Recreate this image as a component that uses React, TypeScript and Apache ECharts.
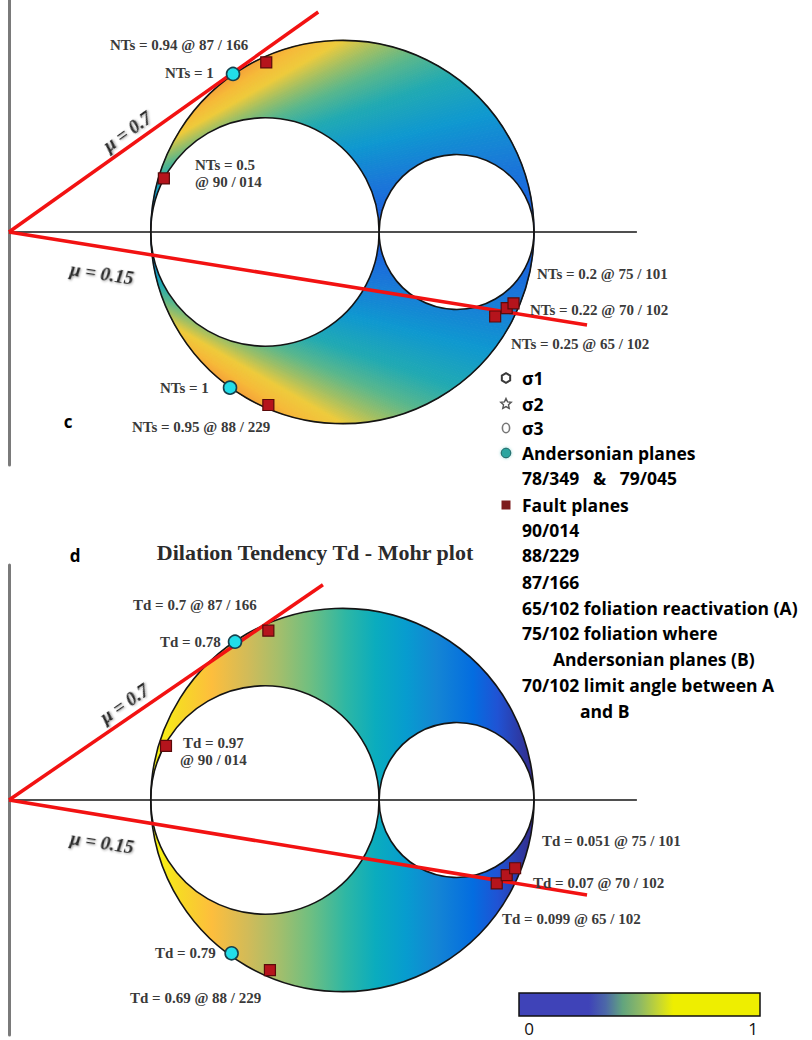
import React, { useEffect, useRef } from "react";
import * as echarts from "echarts";

// ---------- data ----------
// principal stresses (arbitrary units): sigma3, sigma2, sigma1
const principalStresses = [27, 70.5, 100];

// normalized slip tendency plot (c)
const slipAndersonian = [[42.67, 30.1], [42.1, -29.65]];
const slipFaults = [[49.0, 32.3], [29.5, 10.2], [92.6, -16.1], [94.8, -14.5], [96.1, -13.6], [49.4, -32.95]];
const slipFrictionEnds = [[58.9, 41.9], [110.1, -17.7]];
const slipNotes = [
  "NTs = 0.94 @ 87 / 166", "NTs = 1", "NTs = 0.5", "@ 90 / 014",
  "NTs = 0.2 @ 75 / 101", "NTs = 0.22 @ 70 / 102", "NTs = 0.25 @ 65 / 102",
  "NTs = 1", "NTs = 0.95 @ 88 / 229",
];

// dilation tendency plot (d)
const dilAndersonian = [[43.05, 30.15], [42.4, -29.2]];
const dilFaults = [[49.4, 32.25], [29.9, 10.3], [92.9, -15.9], [94.8, -14.3], [96.4, -13.0], [49.7, -32.4]];
const dilFrictionEnds = [[59.8, 41.0], [110.1, -18.1]];
const dilNotes = [
  "Td = 0.7 @ 87 / 166", "Td = 0.78", "Td = 0.97", "@ 90 / 014",
  "Td = 0.051 @ 75 / 101", "Td = 0.07 @ 70 / 102", "Td = 0.099 @ 65 / 102",
  "Td = 0.79", "Td = 0.69 @ 88 / 229",
];

const frictionLabels = ["μ = 0.7", "μ = 0.15"];
const legendLines = [
  "σ1", "σ2", "σ3", "Andersonian planes", "78/349   &   79/045", "Fault planes",
  "90/014", "88/229", "87/166", "65/102 foliation reactivation (A)",
  "75/102 foliation where", "Andersonian planes (B)", "70/102 limit angle between A", "and B",
];
const colorbarTicks = ["0", "1"];

// ---------- styling helpers ----------
const PARULA: number[][] = [
  [0.0, 0.2081, 0.1663, 0.5292],
  [0.095, 0.1253, 0.3242, 0.8303],
  [0.159, 0.0165, 0.4266, 0.8786],
  [0.254, 0.0793, 0.52, 0.8312],
  [0.333, 0.0265, 0.6137, 0.8135],
  [0.413, 0.0384, 0.6743, 0.7436],
  [0.492, 0.1801, 0.7177, 0.6424],
  [0.587, 0.442, 0.7481, 0.5033],
  [0.667, 0.6473, 0.7456, 0.4188],
  [0.746, 0.8185, 0.7327, 0.3498],
  [0.841, 0.9938, 0.7455, 0.2403],
  [0.921, 0.9697, 0.8481, 0.1475],
  [1.0, 0.9763, 0.9831, 0.0538],
];
function interp(stops: number[][], f: number): string {
  const v = Math.max(0, Math.min(1, f));
  let i = 0;
  while (i < stops.length - 2 && stops[i + 1][0] < v) i++;
  const a = stops[i], b = stops[i + 1];
  const t = (v - a[0]) / (b[0] - a[0]);
  const ch = (k: number) => Math.round(255 * (a[k] + (b[k] - a[k]) * t));
  return `rgb(${ch(1)},${ch(2)},${ch(3)})`;
}
const parula = (f: number) => interp(PARULA, f);
const hexStop = (o: number, h: string) => [o, parseInt(h.slice(1, 3), 16) / 255, parseInt(h.slice(3, 5), 16) / 255, parseInt(h.slice(5, 7), 16) / 255];
const NTS_MAP = [
  hexStop(0.0, "#1a55e0"), hexStop(0.2, "#1a7ad8"), hexStop(0.35, "#0f98d0"), hexStop(0.5, "#22aab2"),
  hexStop(0.62, "#5ab78c"), hexStop(0.72, "#a0bf64"), hexStop(0.82, "#eecb3c"), hexStop(0.92, "#f6ba3a"),
  hexStop(1.0, "#f5a23a"),
];
const ntsColor = (nts: number) => interp(NTS_MAP, nts);
const tdStops = PARULA.map((p) => ({ offset: 1 - p[0], color: parula(p[0]) })).reverse();

const SERIF = "'Liberation Serif', 'DejaVu Serif', serif";
const SANS = "'Open Sans', 'Noto Sans', sans-serif";

function circleEls(api: any, s3: number, s2: number, s1: number) {
  const mk = (a: number, b: number, fill: string) => {
    const p = api.coord([(a + b) / 2, 0]);
    const r = api.size([(b - a) / 2, 0])[0];
    return { type: "circle", shape: { cx: p[0], cy: p[1], r }, style: { fill, stroke: "#141414", lineWidth: 1.6 } };
  };
  return [mk(s3, s2, "#ffffff"), mk(s2, s1, "#ffffff"), mk(s3, s1, "none")];
}

function renderSlip(_params: any, api: any) {
  const s3 = api.value(0), s2 = api.value(1), s1 = api.value(2);
  const c = (s1 + s3) / 2, r = (s1 - s3) / 2;
  const thMax = Math.asin(r / c);
  const N = 170;
  const children: any[] = [];
  const ray = (t: number, sgn: number, outer: boolean) => {
    const q = Math.sqrt(Math.max(0, r * r - c * c * Math.sin(t) ** 2));
    const d = c * Math.cos(t) + (outer ? q : -q);
    return api.coord([d * Math.cos(t), sgn * d * Math.sin(t)]);
  };
  for (const sgn of [1, -1]) {
    for (let i = 0; i < N; i++) {
      const t0 = thMax * Math.sin((i / N) * Math.PI / 2);
      const t1 = thMax * Math.sin(((i + 1) / N) * Math.PI / 2);
      const col = ntsColor(Math.tan((t0 + t1) / 2) / Math.tan(thMax));
      children.push({
        type: "polygon",
        shape: { points: [ray(t0, sgn, false), ray(t0, sgn, true), ray(t1, sgn, true), ray(t1, sgn, false)] },
        style: { fill: col, stroke: col, lineWidth: 1 },
      });
    }
  }
  children.push(...circleEls(api, s3, s2, s1));
  return { type: "group", children };
}

function renderDil(_params: any, api: any) {
  const s3 = api.value(0), s2 = api.value(1), s1 = api.value(2);
  const p = api.coord([(s1 + s3) / 2, 0]);
  const r = api.size([(s1 - s3) / 2, 0])[0];
  const children: any[] = [
    {
      type: "circle",
      shape: { cx: p[0], cy: p[1], r },
      style: { fill: { type: "linear", x: 0, y: 0, x2: 1, y2: 0, colorStops: tdStops } },
    },
    ...circleEls(api, s3, s2, s1),
  ];
  return { type: "group", children };
}

function plotSeries(idx: number, kind: "slip" | "dil") {
  const andersonian = kind === "slip" ? slipAndersonian : dilAndersonian;
  const faults = kind === "slip" ? slipFaults : dilFaults;
  const ends = kind === "slip" ? slipFrictionEnds : dilFrictionEnds;
  const base = { xAxisIndex: idx, yAxisIndex: idx, silent: true };
  return [
    { ...base, type: "custom", z: 2, renderItem: kind === "slip" ? renderSlip : renderDil, data: [principalStresses] },
    {
      ...base, type: "line", z: 3, symbol: "none",
      lineStyle: { color: "#151515", width: 1.5 },
      data: [[0, 0], [119.6, 0]],
    },
    ...ends.map((e) => ({
      ...base, type: "line", z: 4, symbol: "none",
      lineStyle: { color: "#f21212", width: 3.5 },
      data: [[0, 0], e],
    })),
    {
      ...base, type: "scatter", z: 5, symbol: "rect", symbolSize: 11,
      itemStyle: { color: "#b5141c", borderColor: "#5a0a0a", borderWidth: 1.2, opacity: 1 },
      data: faults,
    },
    {
      ...base, type: "scatter", z: 6, symbol: "circle", symbolSize: 13,
      itemStyle: { color: "#22dde9", borderColor: "#17404c", borderWidth: 1.6, opacity: 1 },
      data: andersonian,
    },
  ];
}

const notePos = {
  slip: [[110, 45], [165, 73], [195, 165], [195, 182], [537, 274], [530, 310], [511, 344], [160, 388], [132, 427]],
  dil: [[133, 605], [160, 642], [183, 743], [180, 760], [542, 841], [533, 883], [502, 919], [155, 953], [130, 998]],
};

function buildGraphic() {
  const els: any[] = [];
  const note = (text: string, x: number, y: number) => ({
    type: "text", x, y, silent: true,
    style: { text, fill: "#3a3a3a", font: `bold 15px ${SERIF}`, align: "left", verticalAlign: "middle" },
  });
  slipNotes.forEach((t, i) => els.push(note(t, notePos.slip[i][0], notePos.slip[i][1])));
  dilNotes.forEach((t, i) => els.push(note(t, notePos.dil[i][0], notePos.dil[i][1])));

  const mu = (text: string, x: number, y: number, rot: number) => ({
    type: "text", x, y, rotation: rot, silent: true,
    style: {
      text, fill: "#2a2a2a", font: `italic bold 19px ${SERIF}`, align: "center", verticalAlign: "middle",
      textShadowColor: "rgba(0,0,0,0.35)", textShadowBlur: 2, textShadowOffsetX: 1, textShadowOffsetY: 1,
    },
  });
  els.push(mu(frictionLabels[0], 127, 131, 0.62));
  els.push(mu(frictionLabels[1], 102, 273, -0.15));
  els.push(mu(frictionLabels[0], 124, 703, 0.6));
  els.push(mu(frictionLabels[1], 102, 843, -0.15));

  els.push({
    type: "text", x: 315, y: 552, silent: true,
    style: { text: "Dilation Tendency Td - Mohr plot", fill: "#2b2b2b", font: `bold 22px ${SERIF}`, align: "center", verticalAlign: "middle" },
  });
  els.push({ type: "text", x: 68, y: 421, style: { text: "c", fill: "#000", font: `bold 17px ${SANS}`, align: "center", verticalAlign: "middle" } });
  els.push({ type: "text", x: 75, y: 555, style: { text: "d", fill: "#000", font: `bold 17px ${SANS}`, align: "center", verticalAlign: "middle" } });

  // legend
  const ly = [378, 404, 428, 453, 478, 505, 530, 555, 582, 608, 633, 659, 685, 711];
  const lx = [522, 522, 522, 522, 522, 522, 522, 522, 522, 522, 522, 553, 522, 580];
  legendLines.forEach((t, i) =>
    els.push({
      type: "text", x: lx[i], y: ly[i], silent: true,
      style: { text: t, fill: "#000", font: `bold 17.5px ${SANS}`, align: "left", verticalAlign: "middle" },
    })
  );
  const sx = 506;
  const hex: number[][] = [];
  for (let k = 0; k < 6; k++) {
    const a = Math.PI / 2 + (k * Math.PI) / 3;
    hex.push([sx + 4.8 * Math.cos(a), ly[0] + 4.8 * Math.sin(a)]);
  }
  els.push({ type: "polygon", shape: { points: hex }, style: { fill: "none", stroke: "#3a3a3a", lineWidth: 2 } });
  const star: number[][] = [];
  for (let k = 0; k < 10; k++) {
    const a = -Math.PI / 2 + (k * Math.PI) / 5;
    const rr = k % 2 === 0 ? 5.5 : 2.6;
    star.push([sx + rr * Math.cos(a), ly[1] + rr * Math.sin(a)]);
  }
  els.push({ type: "polygon", shape: { points: star }, style: { fill: "none", stroke: "#555", lineWidth: 1.4 } });
  els.push({ type: "ellipse", shape: { cx: sx, cy: ly[2], rx: 3.6, ry: 4.8 }, style: { fill: "none", stroke: "#777", lineWidth: 1.6 } });
  els.push({
    type: "circle", shape: { cx: sx, cy: ly[3], r: 4.8 },
    style: { fill: "#2aa59f", stroke: "#1d5f60", lineWidth: 1, shadowColor: "rgba(40,170,160,0.5)", shadowBlur: 3 },
  });
  els.push({ type: "rect", shape: { x: sx - 4.5, y: ly[5] - 4.5, width: 9, height: 9 }, style: { fill: "#7d1c1e" } });

  // colour bar
  els.push({
    type: "rect", shape: { x: 519, y: 993, width: 241, height: 23 },
    style: {
      fill: {
        type: "linear", x: 0, y: 0, x2: 1, y2: 0,
        colorStops: [
          { offset: 0, color: "#3f43b8" }, { offset: 0.29, color: "#3f43b8" },
          { offset: 0.36, color: "#4c68a8" }, { offset: 0.43, color: "#62a47e" },
          { offset: 0.5, color: "#8cb866" }, { offset: 0.58, color: "#c6d632" },
          { offset: 0.64, color: "#eeee00" }, { offset: 1, color: "#eeee00" },
        ],
      },
      stroke: "#111", lineWidth: 1.5,
    },
  });
  els.push({ type: "text", x: 529, y: 1028, style: { text: colorbarTicks[0], fill: "#111", font: `17px ${SANS}`, align: "center", verticalAlign: "middle" } });
  els.push({ type: "text", x: 753, y: 1028, style: { text: colorbarTicks[1], fill: "#111", font: `17px ${SANS}`, align: "center", verticalAlign: "middle" } });
  return els.map((e) => ({ ...e, z: 100 }));
}

const S = 5.25; // pixels per stress unit (equal scale on both axes)

export default function App() {
  const ref = useRef<HTMLDivElement>(null);
  useEffect(() => {
    if (!ref.current) return;
    const chart = echarts.init(ref.current, undefined, { renderer: "svg" });
    const axisY = (min: number, max: number, idx: number) => ({
      type: "value", gridIndex: idx, min, max,
      axisLine: { show: true, onZero: false, lineStyle: { color: "#7a7a7a", width: 3 } },
      axisTick: { show: false }, axisLabel: { show: false }, splitLine: { show: false },
    });
    const axisX = (idx: number) => ({
      type: "value", gridIndex: idx, min: 0, max: 120,
      axisLine: { show: false }, axisTick: { show: false }, axisLabel: { show: false }, splitLine: { show: false },
    });
    chart.setOption({
      animation: false,
      backgroundColor: "#ffffff",
      grid: [
        { left: 9, top: 0, width: 630, height: 465 },
        { left: 9, top: 565, width: 630, height: 470 },
      ],
      xAxis: [axisX(0), axisX(1)],
      yAxis: [axisY(-233 / S, 232 / S, 0), axisY(-235 / S, 235 / S, 1)],
      series: [...plotSeries(0, "slip"), ...plotSeries(1, "dil")],
      graphic: buildGraphic(),
    });
    return () => chart.dispose();
  }, []);
  return <div ref={ref} style={{ position: "absolute", left: 0, top: 0, width: 812, height: 1040 }} />;
}
